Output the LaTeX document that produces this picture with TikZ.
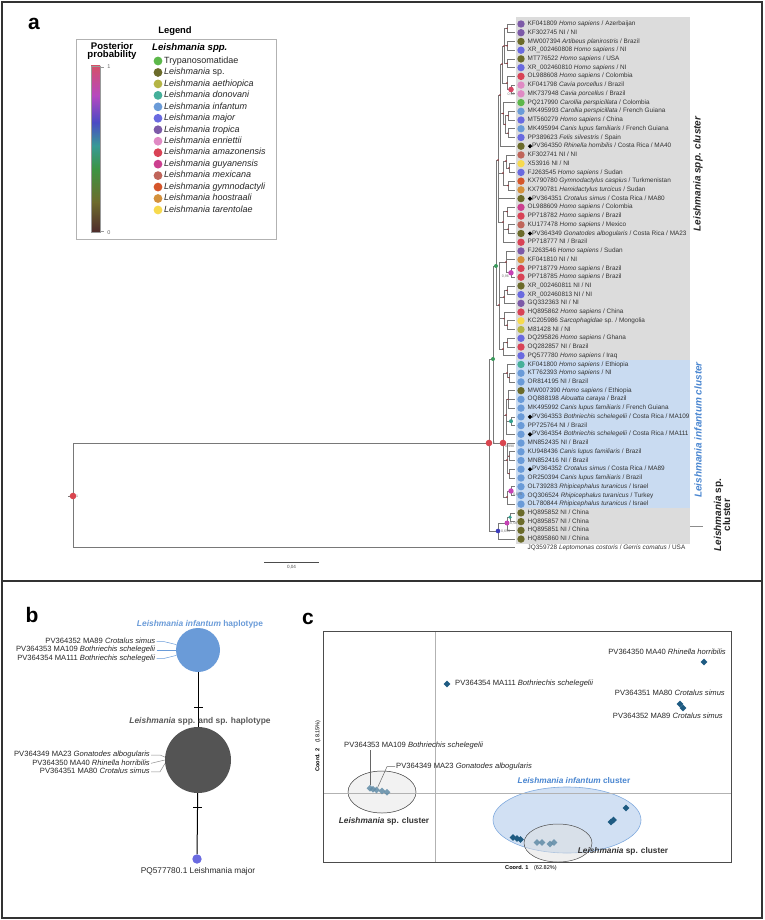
\documentclass[tikz,border=0pt]{standalone}
\usepackage{fontspec}
\setmainfont{Liberation Sans}
\usetikzlibrary{shapes.geometric}

\definecolor{trypa}{HTML}{5CB84A}
\definecolor{lsp}{HTML}{6B6B2A}
\definecolor{aeth}{HTML}{B5B545}
\definecolor{dono}{HTML}{45B09A}
\definecolor{infa}{HTML}{6A9BD8}
\definecolor{majo}{HTML}{6A6AE0}
\definecolor{trop}{HTML}{7D5AA8}
\definecolor{enri}{HTML}{E08AC4}
\definecolor{amaz}{HTML}{D94356}
\definecolor{guya}{HTML}{CC3F8F}
\definecolor{mexi}{HTML}{C0655A}
\definecolor{gymn}{HTML}{D5562B}
\definecolor{hoos}{HTML}{D4913C}
\definecolor{tare}{HTML}{F7DA4E}
\definecolor{ppred}{HTML}{D9464F}
\definecolor{ppmag}{HTML}{C542B4}
\definecolor{ppgrn}{HTML}{3A9A5C}
\definecolor{pptea}{HTML}{33A08D}
\definecolor{ppblu}{HTML}{3C3CBA}
\definecolor{sppbg}{HTML}{DCDCDC}
\definecolor{infbg}{HTML}{C9DBF1}
\definecolor{infbl}{HTML}{4A86D0}
\definecolor{pcoa}{HTML}{1E5B82}
\definecolor{brgrey}{HTML}{787878}
\definecolor{gA}{HTML}{4E2C2C}
\definecolor{gB}{HTML}{6E6B2C}
\definecolor{gC}{HTML}{3C9443}
\definecolor{gD}{HTML}{389A96}
\definecolor{gE}{HTML}{4A4AC4}
\definecolor{gF}{HTML}{B648C0}
\definecolor{gG}{HTML}{D4506A}

\newcommand\fsz[1]{\fontsize{#1}{#1}\selectfont}
\newcommand\dm{\hspace*{4.4pt}}

\tikzset{
  br/.style={draw=brgrey, line width=0.7pt},
  tip/.style={anchor=west, inner sep=0pt, text height=4.6pt, text depth=1.4pt, font=\fsz{6.4}, text=black!80},
  tipdia/.style={diamond, fill=black, inner sep=0pt, minimum size=4.6pt},
  pp/.style={circle, inner sep=0pt, minimum size=6.6pt},
  ppsm/.style={circle, inner sep=0pt, minimum size=4pt},
  nd/.style={circle, fill=ppred!70!black, inner sep=0pt, minimum size=1.6pt},
  pplab/.style={font=\fsz{3.6}, text=black!55, inner sep=0.4pt},
  plab/.style={font=\bfseries\fsz{21}, inner sep=0pt},
  legtxt/.style={anchor=west, inner sep=0pt, text height=6.4pt, text depth=1.8pt, font=\fsz{9}, text=black!85},
  clab/.style={rotate=90, font=\bfseries\itshape\fsz{10}, inner sep=0pt},
  hap/.style={circle, draw=none, inner sep=0pt},
  mut/.style={draw=black, line width=1pt},
  tk/.style={fill=black, inner sep=0pt, minimum width=9pt, minimum height=1.1pt},
  hlab/.style={anchor=east, inner sep=1pt, text height=5.5pt, text depth=1.6pt, font=\fsz{7.6}, text=black!85},
  lead/.style={draw=black!45, line width=0.5pt},
  dia/.style={diamond, fill=pcoa, inner sep=0pt, minimum size=7pt},
  dial/.style={dia, fill=pcoa!70!white, fill opacity=0.85},
  clu/.style={font=\bfseries\fsz{8.3}, inner sep=0pt},
  axl/.style={draw=black!30, line width=0.6pt},
}

\begin{document}
\begin{tikzpicture}[x=1pt,y=-1pt]
\useasboundingbox (0,0) rectangle (764,920);
\draw[black!80, line width=1.5pt] (2,2) rectangle (762,918);
\draw[black!80, line width=1.5pt] (2,581) -- (762,581);

\node[plab] (pa) at (34,24) {a};

% legend
\node[font=\bfseries\fsz{9.4}, inner sep=0pt] (legt) at (175,31) {Legend};
\draw[black!30, line width=0.7pt] (76,39) rectangle (276,239);
\node[font=\bfseries\fsz{9.6}, align=center, inner sep=0pt] (ppt) at (112,51) {Posterior\\[-1.5pt]probability};
\shade[top color=gB, bottom color=gA] (91,201.8) rectangle (100,232);
\shade[top color=gC, bottom color=gB] (91,168.6) rectangle (100,202.2);
\shade[top color=gD, bottom color=gC] (91,145.4) rectangle (100,169);
\shade[top color=gE, bottom color=gD] (91,122.1) rectangle (100,145.8);
\shade[top color=gF, bottom color=gE] (91,95.6) rectangle (100,122.5);
\shade[top color=gG, bottom color=gF] (91,66) rectangle (100,96);
\draw[black!40, line width=0.4pt] (91,66) rectangle (100,232);
\draw[black!40, line width=0.4pt] (100,67) -- (104,67) (100,231) -- (104,231);
\node[font=\fsz{5.5}, text=black!60, inner sep=0pt] (pp1) at (109,67) {1};
\node[font=\fsz{5.5}, text=black!60, inner sep=0pt] (pp0) at (109,233) {0};
\node[anchor=west, font=\bfseries\itshape\fsz{9.6}, inner sep=0pt] (legs) at (152,48) {Leishmania spp.};
\foreach \col/\txt [count=\k] in {trypa/Trypanosomatidae, lsp/{\textit{Leishmania} sp.}, aeth/\textit{Leishmania aethiopica}, dono/\textit{Leishmania donovani}, infa/\textit{Leishmania infantum}, majo/\textit{Leishmania major}, trop/\textit{Leishmania tropica}, enri/\textit{Leishmania enriettii}, amaz/\textit{Leishmania amazonensis}, guya/\textit{Leishmania guyanensis}, mexi/\textit{Leishmania mexicana}, gymn/\textit{Leishmania gymnodactyli}, hoos/\textit{Leishmania hoostraali}, tare/\textit{Leishmania tarentolae}}{
  \pgfmathsetmacro\ly{61+(\k-1)*11.46}
  \fill[\col] (158,\ly) circle (4.4pt);
  \node[legtxt] (leg\k) at (164,\ly) {\txt};
}

% cluster backgrounds
\fill[sppbg] (516,17) rectangle (690,360);
\fill[infbg] (516,360) rectangle (690,508);
\fill[sppbg] (516,508) rectangle (690,544);

% tips
\foreach \i in {1,...,61} \coordinate (t\i) at (515,{24+(\i-1)*8.73});
\foreach \col/\txt [count=\i] in {
trop/{KF041809 \textit{Homo sapiens} / Azerbaijan},
trop/{KF302745 NI / NI},
lsp/{MW007394 \textit{Artibeus planirostris} / Brazil},
majo/{XR\_002460808 \textit{Homo sapiens} / NI},
lsp/{MT776522 \textit{Homo sapiens} / USA},
majo/{XR\_002460810 \textit{Homo sapiens} / NI},
amaz/{OL988608 \textit{Homo sapiens} / Colombia},
enri/{KF041798 \textit{Cavia porcellus} / Brazil},
enri/{MK737948 \textit{Cavia porcellus} / Brazil},
trypa/{PQ217990 \textit{Carollia perspicillata} / Colombia},
infa/{MK495993 \textit{Carollia perspicillata} / French Guiana},
majo/{MT560279 \textit{Homo sapiens} / China},
infa/{MK495994 \textit{Canis lupus familiaris} / French Guiana},
majo/{PP389623 \textit{Felis silvestris} / Spain},
lsp/{\dm PV364350 \textit{Rhinella horribilis} / Costa Rica / MA40},
mexi/{KF302741 NI / NI},
tare/{X53916 NI / NI},
majo/{FJ263545 \textit{Homo sapiens} / Sudan},
gymn/{KX790780 \textit{Gymnodactylus caspius} / Turkmenistan},
hoos/{KX790781 \textit{Hemidactylus turcicus} / Sudan},
lsp/{\dm PV364351 \textit{Crotalus simus} / Costa Rica / MA80},
guya/{OL988609 \textit{Homo sapiens} / Colombia},
amaz/{PP718782 \textit{Homo sapiens} / Brazil},
mexi/{KU177478 \textit{Homo sapiens} / Mexico},
lsp/{\dm PV364349 \textit{Gonatodes albogularis} / Costa Rica / MA23},
amaz/{PP718777 NI / Brazil},
trop/{FJ263546 \textit{Homo sapiens} / Sudan},
hoos/{KF041810 NI / NI},
amaz/{PP718779 \textit{Homo sapiens} / Brazil},
amaz/{PP718785 \textit{Homo sapiens} / Brazil},
lsp/{XR\_002460811 NI / NI},
majo/{XR\_002460813 NI / NI},
trop/{GQ332363 NI / NI},
amaz/{HQ895862 \textit{Homo sapiens} / China},
tare/{KC205986 \textit{Sarcophagidae} sp. / Mongolia},
aeth/{M81428 NI / NI},
majo/{DQ295826 \textit{Homo sapiens} / Ghana},
amaz/{OQ282857 NI / Brazil},
majo/{PQ577780 \textit{Homo sapiens} / Iraq},
dono/{KF041800 \textit{Homo sapiens} / Ethiopia},
infa/{KT762393 \textit{Homo sapiens} / NI},
infa/{OR814195 NI / Brazil},
lsp/{MW007390 \textit{Homo sapiens} / Ethiopia},
infa/{OQ888198 \textit{Alouatta caraya} / Brazil},
infa/{MK495992 \textit{Canis lupus familiaris} / French Guiana},
infa/{\dm PV364353 \textit{Bothriechis schelegelii} / Costa Rica / MA109},
infa/{PP725764 NI / Brazil},
infa/{\dm PV364354 \textit{Bothriechis schelegelii} / Costa Rica / MA111},
infa/{MN852435 NI / Brazil},
infa/{KU948436 \textit{Canis lupus familiaris} / Brazil},
infa/{MN852416 NI / Brazil},
infa/{\dm PV364352 \textit{Crotalus simus} / Costa Rica / MA89},
infa/{OR250394 \textit{Canis lupus familiaris} / Brazil},
infa/{OL739283 \textit{Rhipicephalus turanicus} / Israel},
infa/{OQ306524 \textit{Rhipicephalus turanicus} / Turkey},
infa/{OL780844 \textit{Rhipicephalus turanicus} / Israel},
lsp/{HQ895852 NI / China},
lsp/{HQ895857 NI / China},
lsp/{HQ895851 NI / China},
lsp/{HQ895860 NI / China}}{
  \pgfmathsetmacro\yy{24+(\i-1)*8.73}
  \fill[\col] (521,\yy) circle (3.7pt);
  \node[tip] (l\i) at (527.5,\yy) {\txt};
}
\node[tip] (l61) at (527.5,547.8) {JQ359728 \textit{Leptomonas costoris} / \textit{Gerris comatus} / USA};
\foreach \r in {15,21,25,46,48,52}{
  \pgfmathsetmacro\yy{24+(\r-1)*8.73}
  \node[tipdia] (dm\r) at (530,\yy) {};
}

% internal nodes
\coordinate (R) at (73,496);
\coordinate (R0) at (68,496);
\coordinate (A) at (489,443);
\coordinate (G1) at (493,359);
\coordinate (B) at (498,531);
\coordinate (S) at (496,266);
\coordinate (I) at (503,443);
\coordinate (U) at (498,160);
\coordinate (X3) at (499,305);
\coordinate (c115) at (500,95);
\coordinate (c1620) at (503,173);
\coordinate (c2226) at (503,222);
\coordinate (c19) at (502,64);
\coordinate (c1014) at (503,113.5);
\coordinate (c16) at (504,46);
\coordinate (c79) at (507,83);
\coordinate (c12) at (507,28.4);
\coordinate (c34) at (507,45.8);
\coordinate (c56) at (507,63.3);
\coordinate (c89) at (511,89.5);
\coordinate (c1114) at (505,124.4);
\coordinate (c1112) at (508,115.7);
\coordinate (c1314) at (508,133.1);
\coordinate (c1618) at (506,161);
\coordinate (c1718) at (509,168);
\coordinate (c1920) at (508,185.5);
\coordinate (c2223) at (507,211.7);
\coordinate (c2425) at (508,229.2);
\coordinate (c2730) at (506,262);
\coordinate (c2930) at (511,272.8);
\coordinate (c3133) at (504,297);
\coordinate (c3132) at (507,290.3);
\coordinate (c3436) at (504,318.6);
\coordinate (c3536) at (507,325.2);
\coordinate (c3739) at (503,349);
\coordinate (c3738) at (507,342.6);
\coordinate (c4042) at (507,373);
\coordinate (c4142) at (509,377.6);
\coordinate (c4348) at (506,415);
\coordinate (c4345) at (508,399.4);
\coordinate (c4647) at (511,421.2);
\coordinate (c4953) at (507,460);
\coordinate (c5051) at (509,456.1);
\coordinate (c5253) at (509,473.6);
\coordinate (c5456) at (507,497);
\coordinate (c5455) at (511,491);
\coordinate (M) at (507,523);
\coordinate (T) at (510,517.2);

\draw[br] (R0) -- (R);
\foreach \p/\c in {R/A, R/t61, A/G1, A/B, G1/S, G1/I, S/U, S/X3,
  U/c115, U/c1620, U/t21, U/c2226, c115/c19, c115/c1014, c115/t15,
  c19/c16, c19/c79, c16/c12, c16/c34, c16/c56,
  c12/t1, c12/t2, c34/t3, c34/t4, c56/t5, c56/t6,
  c79/t7, c79/c89, c89/t8, c89/t9,
  c1014/t10, c1014/c1114, c1114/c1112, c1114/c1314, c1112/t11, c1112/t12, c1314/t13, c1314/t14,
  c1620/c1618, c1620/c1920, c1618/t16, c1618/c1718, c1718/t17, c1718/t18, c1920/t19, c1920/t20,
  c2226/c2223, c2226/c2425, c2226/t26, c2223/t22, c2223/t23, c2425/t24, c2425/t25,
  X3/c2730, X3/c3133, X3/c3436, X3/c3739,
  c2730/t27, c2730/t28, c2730/c2930, c2930/t29, c2930/t30,
  c3133/c3132, c3133/t33, c3132/t31, c3132/t32,
  c3436/t34, c3436/c3536, c3536/t35, c3536/t36,
  c3739/c3738, c3739/t39, c3738/t37, c3738/t38,
  I/c4042, I/c4348, I/c4953, I/c5456,
  c4042/t40, c4042/c4142, c4142/t41, c4142/t42,
  c4348/c4345, c4348/c4647, c4348/t48, c4345/t43, c4345/t44, c4345/t45, c4647/t46, c4647/t47,
  c4953/t49, c4953/c5051, c4953/c5253, c5051/t50, c5051/t51, c5253/t52, c5253/t53,
  c5456/c5455, c5456/t56, c5455/t54, c5455/t55,
  B/M, B/t60, M/T, M/t59, T/t57, T/t58}
  \draw[br] (\p) |- (\c);

\foreach \n in {U, X3, c115, c1620, c2226, c19, c1014, c16, c79, c12, c34, c56, c1114, c1112, c1314, c1618, c1718, c1920, c2223, c2425, c2730, c3133, c3132, c3436, c3536, c3739, c3738, c4042, c4142, c4348, c4345, c4953, c5051, c5253, c5456}
  \node[nd] at (\n) {};

\node[pp, fill=ppred] (pR) at (R) {};
\node[pp, fill=ppred] (pA) at (A) {};
\node[pp, fill=ppred] (pI) at (I) {};
\node[pp, fill=ppred!80!ppmag, minimum size=5.6pt] (p89) at (c89) {};
\node[pp, fill=ppmag, minimum size=5.4pt] (p2930) at (c2930) {};
\node[ppsm, fill=ppgrn] (pS) at (S) {};
\node[ppsm, fill=ppgrn] (pG1) at (G1) {};
\node[ppsm, fill=pptea] (p4647) at (c4647) {};
\node[pp, fill=ppmag, minimum size=5.4pt] (p5455) at (c5455) {};
\node[ppsm, fill=ppblu, minimum size=4.6pt] (pB) at (B) {};
\node[pp, fill=ppmag, minimum size=5pt] (pM) at (M) {};
\node[ppsm, fill=pptea, minimum size=3.6pt] (pT) at (T) {};
\node[pplab, right=2.5pt] at (R) {1};
\node[pplab, right=3.5pt] at (A) {1};
\node[pplab, below right=1.5pt] at (I) {0,998};
\node[pplab, below=2.5pt] at (c89) {0,96};
\node[pplab, below left=1.5pt] at (c2930) {0,96};
\node[pplab, below right=1.5pt] at (c5455) {0,875};
\node[pplab, right=2.5pt] at (B) {0,659};
\node[pplab, right=2.5pt] at (M) {0,58};

% cluster labels
\node[clab, text=black!85] (cspp) at (698,174) {Leishmania spp. cluster};
\node[clab, text=infbl] (cinf) at (698,430) {Leishmania infantum cluster};
\node[rotate=90, align=center, font=\bfseries\fsz{10}, inner sep=0pt, text=black!85] (csp) at (722,515) {\textit{Leishmania} sp.\\[-1pt]cluster};
\coordinate (cspl) at (690,526);
\draw[black!45, line width=0.6pt] (cspl) -- ++(13,0);

% scale bar
\coordinate (sb0) at (264,562);
\coordinate (sb1) at (319,562);
\draw[black!70, line width=0.6pt] (sb0) -- node[below=3pt, font=\fsz{4.6}, text=black!70, inner sep=0pt] {0,04} (sb1);

% panel b
\node[plab] (pb) at (32,615) {b};
\node[font=\bfseries\fsz{8.4}, text=infa, inner sep=0pt] (tinf) at (200,624) {\textit{Leishmania infantum} haplotype};
\node[hap, fill=infa, minimum size=44pt] (hinf) at (198,650) {};
\node[hap, fill=black!67, minimum size=66pt] (hspp) at (198,760) {};
\node[hap, fill=majo, minimum size=9.4pt] (hmaj) at (197,859) {};
\draw[mut] (hinf) -- node[pos=0.64, tk] {} (hspp);
\draw[mut] (hspp) -- node[pos=0.23, tk] {} (hmaj);
\node[font=\bfseries\fsz{8.4}, text=black!65, inner sep=0pt] (tspp) at (200,721) {\textit{Leishmania} spp. and sp. haplotype};
\node[font=\fsz{8.3}, text=black!85, inner sep=0pt] (tmaj) at (198,871) {PQ577780.1 Leishmania major};

\node[hlab] (bi1) at (156.5,641.7) {PV364352 MA89 \textit{Crotalus simus}};
\node[hlab] (bi2) at (156.5,650) {PV364353 MA109 \textit{Bothriechis schelegelii}};
\node[hlab] (bi3) at (156.5,658.3) {PV364354 MA111 \textit{Bothriechis schelegelii}};
\draw[lead, draw=infa] (bi1.east) -- ++(8,0) -- (hinf.166);
\draw[lead, draw=infa] (bi2.east) -- (hinf.180);
\draw[lead, draw=infa] (bi3.east) -- ++(8,0) -- (hinf.194);
\node[hlab] (bs1) at (151,755) {PV364349 MA23 \textit{Gonatodes albogularis}};
\node[hlab] (bs2) at (151,763.3) {PV364350 MA40 \textit{Rhinella horribilis}};
\node[hlab] (bs3) at (151,771.8) {PV364351 MA80 \textit{Crotalus simus}};
\draw[lead] (bs1.east) -- ++(9,0) -- (hspp.175);
\draw[lead] (bs2.east) -- (hspp.180);
\draw[lead] (bs3.east) -- ++(9,0) -- (hspp.186);

% panel c
\node[plab] (pc) at (308,619) {c};
\draw[draw=black!25, fill=black!5] (382,792) ellipse [x radius=34pt, y radius=21pt];
\draw[draw=black!70, line width=0.5pt] (382,792) ellipse [x radius=34pt, y radius=21pt];
\draw[draw=infa!85, fill=infbg!85, line width=0.6pt] (567,820) ellipse [x radius=74pt, y radius=33pt];
\draw[draw=black!70, fill=black!12, fill opacity=0.5, line width=0.5pt] (558,843) ellipse [x radius=34pt, y radius=19pt];
\draw[axl] (435,631) -- (435,862);
\draw[axl] (323,793) -- (731,793);
\draw[black!70, line width=0.8pt] (323,631) rectangle (731,862);
\node[rotate=90, font=\fsz{5.6}, inner sep=0pt] (ax2) at (318,746) {\textbf{Coord. 2}\quad(18.15\%)};
\node[font=\fsz{5.6}, inner sep=0pt] (ax1) at (531,868) {\textbf{Coord. 1}\quad(62.82\%)};

\node[dia] (dR) at (704,662) {};
\node[dia] (dB111) at (447,684) {};
\node[dia] (dC80) at (680,704) {};
\node[dia] (dC89) at (683,708) {};
\node[dial] (dL1) at (370,788.3) {};
\node[dial] (dL2) at (373,789.3) {};
\node[dial] (dL3) at (376.5,790) {};
\node[dial] (dL4) at (382,791) {};
\node[dial] (dL5) at (387,792.3) {};
\node[dia] (dI1) at (626,808) {};
\node[dia] (dI2) at (611,822) {};
\node[dia] (dI3) at (613.5,820) {};
\node[dia] (dI4) at (513,837.5) {};
\node[dia] (dI5) at (517,838.5) {};
\node[dia] (dI6) at (520.5,839.5) {};
\node[dial] (dS1) at (537,842.5) {};
\node[dial] (dS2) at (542,842.5) {};
\node[dial] (dS3) at (550,844) {};
\node[dial] (dS4) at (554,842.5) {};

\node[hlab] (cR) at (727,653) {PV364350 MA40 \textit{Rhinella horribilis}};
\node[hlab, anchor=west] (cB111) at (454,684) {PV364354 MA111 \textit{Bothriechis schelegelii}};
\node[hlab] (cC80) at (726,694) {PV364351 MA80 \textit{Crotalus simus}};
\node[hlab] (cC89) at (724,716.7) {PV364352 MA89 \textit{Crotalus simus}};
\node[hlab, anchor=west] (cB109) at (343,745.7) {PV364353 MA109 \textit{Bothriechis schelegelii}};
\node[hlab, anchor=west] (cG23) at (395,766.7) {PV364349 MA23 \textit{Gonatodes albogularis}};
\draw[lead, draw=black!60] (dL1) -- (dL1 |- cB109.south);
\draw[lead, draw=black!60] (cG23.west) -- ++(-8,0) -- (dL3);

\node[clu, text=black!80] (kl1) at (384,821) {\textit{Leishmania} sp. cluster};
\node[clu, text=infbl] (kinf) at (574,781) {\textit{Leishmania infantum} cluster};
\node[clu, text=black!80] (kl2) at (623,851) {\textit{Leishmania} sp. cluster};
\end{tikzpicture}
\end{document}
